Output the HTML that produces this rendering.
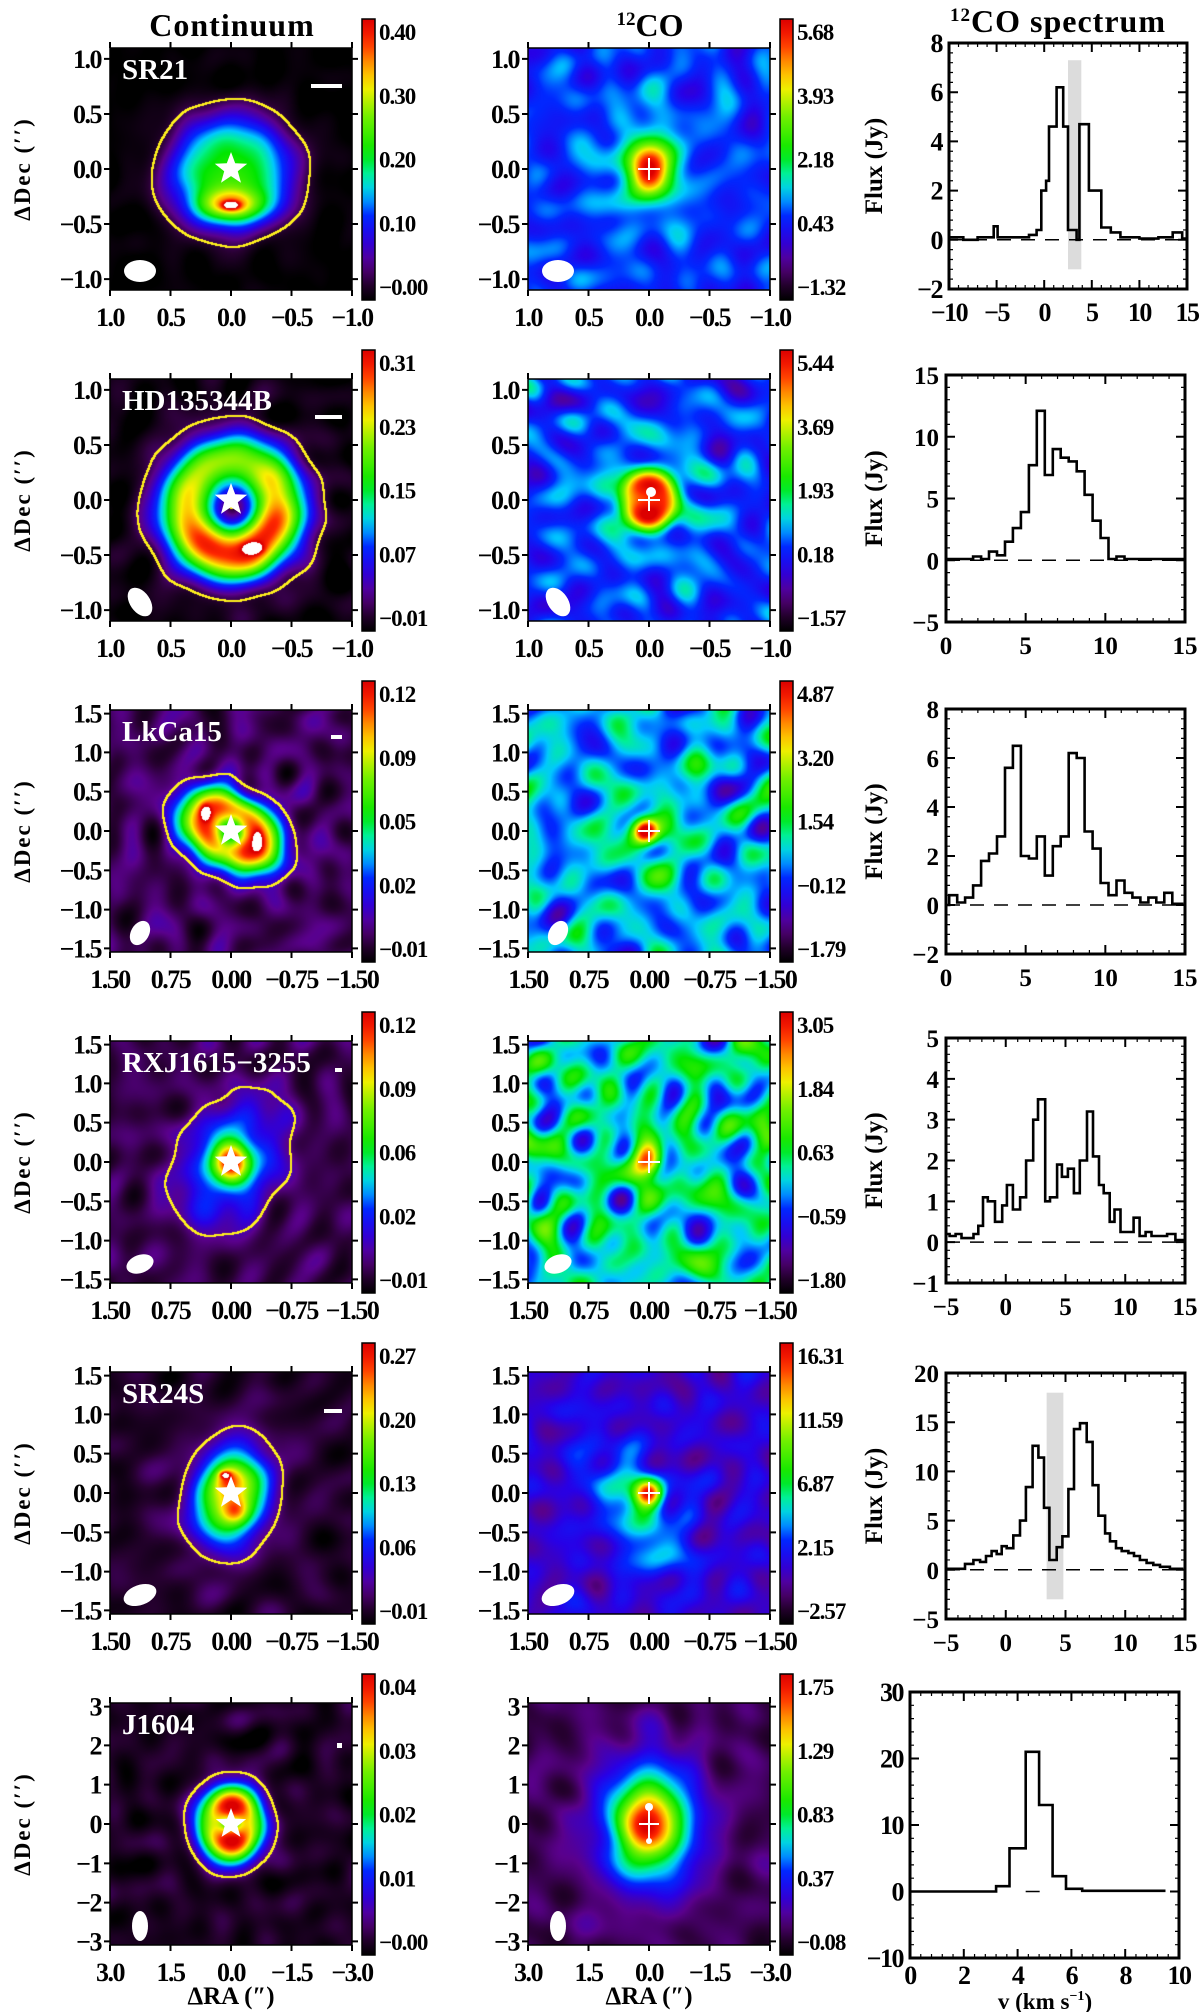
<!DOCTYPE html>
<html><head><meta charset="utf-8">
<style>
html,body{margin:0;padding:0;background:#fff;}
#wrap{position:relative;width:1200px;height:2012px;overflow:hidden;background:#fff;}
canvas{position:absolute;}
svg{position:absolute;left:0;top:0;}
text{font-family:"Liberation Serif",serif;font-weight:bold;}
</style></head>
<body>
<div id="wrap">
<svg id="ov" width="1200" height="2012"></svg>
</div>
<script>
// ---------- spectrum data ----------
const spec1Edges=[-10,-8.5,-7,-5.3,-4.9,-3,-1.6,-0.8,-0.3,0.2,0.5,1.3,2.0,2.5,3.4,3.7,4.7,6.0,7.0,8,10,12,13.5,14.5,15];
const spec1Flux=[0.1,0.0,0.1,0.55,0.1,0.1,0.2,0.4,2.0,2.4,4.6,6.2,4.6,0.4,0.0,4.7,2.0,0.5,0.3,0.1,0.05,0.1,0.3,0.05];
const spec2Edges=[0,1.7,2.2,2.7,3.2,3.7,4.2,4.7,5.2,5.7,6.2,6.7,7.2,7.7,8.2,8.7,9.2,9.7,10.2,10.7,11.2,15];
const spec2Flux=[0.1,0.3,0.1,0.7,0.4,1.5,2.6,3.9,7.7,12.1,6.9,9.0,8.3,8.0,7.2,5.3,3.2,1.8,0.1,0.3,0.1];
const spec3Edges=[0,0.2,0.7,1.2,1.7,2.2,2.7,3.2,3.7,4.2,4.7,5.2,5.7,6.2,6.7,7.2,7.7,8.2,8.7,9.2,9.7,10.2,10.7,11.2,11.7,12.2,12.7,13.2,13.7,14.2,14.9];
const spec3Flux=[0.0,0.4,0.1,0.3,0.8,1.8,2.1,2.8,5.6,6.5,2.0,1.9,2.8,1.2,2.4,2.8,6.2,6.0,3.0,2.3,0.9,0.4,1.0,0.5,0.3,0.1,0.3,0.1,0.5,0.05];
const spec4Edges=[-5,-4.7,-4.2,-3.7,-2.7,-2.3,-1.9,-1.5,-0.9,-0.3,0.1,0.6,1.2,1.7,2.3,2.7,3.3,3.7,4.3,4.7,5.2,5.7,6.2,6.8,7.3,7.8,8.2,8.7,9.1,9.6,10.7,11.2,11.7,12.2,13.5,14.2,14.9];
const spec4Flux=[0.2,0.15,0.2,0.1,0.2,0.4,1.1,1.0,0.5,0.9,1.4,0.8,1.1,2.0,3.0,3.5,1.0,1.1,1.9,1.6,1.8,1.2,2.0,3.2,2.1,1.4,1.2,0.5,0.8,0.25,0.6,0.15,0.25,0.15,0.2,0.05];
const spec5Edges=[-5,-3.41,-2.71,-2.15,-1.65,-1.18,-0.76,-0.34,0.08,0.63,1.19,1.69,2.25,2.73,3.2,3.65,4.26,4.74,5.24,5.71,6.21,6.77,7.27,7.75,8.31,8.72,9.23,9.7,10.26,10.73,11.23,11.79,12.35,12.91,13.74,14.86];
const spec5Flux=[0.1,0.6,1.0,0.8,1.4,1.9,1.6,2.4,2.2,3.5,5.0,8.4,12.6,11.4,6.3,1.0,2.3,3.4,8.2,14.3,14.9,13.0,8.6,5.5,3.7,2.9,2.2,1.9,1.7,1.4,1.0,0.7,0.5,0.3,0.1];
const spec6Edges=[0,3.2,3.7,4.3,4.8,5.3,5.8,6.4,9.5];
const spec6Flux=[0.0,0.8,6.5,21,13,2.3,0.4,0.1];
const specXTicks=[[-10,-5,0,5,10,15],[0,5,10,15],[0,5,10,15],[-5,0,5,10,15],[-5,0,5,10,15],[0,2,4,6,8,10]];
const specYTicks=[[-2,0,2,4,6,8],[-5,0,5,10,15],[-2,0,2,4,6,8],[-1,0,1,2,3,4,5],[-5,0,5,10,15,20],[-10,0,10,20,30]];
const specBands=[[2.5,3.9,-1.2,7.3],null,null,null,[3.42,4.82,-3.0,18.0],null];
const cbCont=[["0.40","0.30","0.20","0.10","−0.00"],["0.31","0.23","0.15","0.07","−0.01"],["0.12","0.09","0.05","0.02","−0.01"],["0.12","0.09","0.06","0.02","−0.01"],["0.27","0.20","0.13","0.06","−0.01"],["0.04","0.03","0.02","0.01","−0.00"]];
const cbCO=[["5.68","3.93","2.18","0.43","−1.32"],["5.44","3.69","1.93","0.18","−1.57"],["4.87","3.20","1.54","−0.12","−1.79"],["3.05","1.84","0.63","−0.59","−1.80"],["16.31","11.59","6.87","2.15","−2.57"],["1.75","1.29","0.83","0.37","−0.08"]];
const names=["SR21","HD135344B","LkCa15","RXJ1615−3255","SR24S","J1604"];
const mapXLabels=[["1.0","0.5","0.0","−0.5","−1.0"],["1.0","0.5","0.0","−0.5","−1.0"],["1.50","0.75","0.00","−0.75","−1.50"],["1.50","0.75","0.00","−0.75","−1.50"],["1.50","0.75","0.00","−0.75","−1.50"],["3.0","1.5","0.0","−1.5","−3.0"]];
const mapYLabels=[["1.0","0.5","0.0","−0.5","−1.0"],["1.0","0.5","0.0","−0.5","−1.0"],["1.5","1.0","0.5","0.0","−0.5","−1.0","−1.5"],["1.5","1.0","0.5","0.0","−0.5","−1.0","−1.5"],["1.5","1.0","0.5","0.0","−0.5","−1.0","−1.5"],["3","2","1","0","−1","−2","−3"]];
const mapYFrac=[[0.91,0.455,0,-0.455,-0.91],[0.91,0.455,0,-0.455,-0.91],[0.97,0.65,0.325,0,-0.325,-0.65,-0.97],[0.97,0.65,0.325,0,-0.325,-0.65,-0.97],[0.97,0.65,0.325,0,-0.325,-0.65,-0.97],[0.97,0.65,0.325,0,-0.325,-0.65,-0.97]];

const MS=242, LX=110, MX=528;
function rowTop(i){return 48+331*i;}
const specBox=[[949,43,238,246],[946,375,239,247],[946,709,239,245],[946,1038,239,245],[946,1373,239,246],[910,1692,269,266]];

const NS="http://www.w3.org/2000/svg";
const ov=document.getElementById('ov');
function mk(tag,at,parent){const e=document.createElementNS(NS,tag);for(const k in at)e.setAttribute(k,at[k]);(parent||ov).appendChild(e);return e;}
function tx(x,y,s,size,anchor,fill,extra){const e=mk('text',Object.assign({x:x,y:y,'font-size':size,'text-anchor':anchor||'middle',fill:fill||'#000'},extra||{}));e.textContent=s;return e;}

const CM=[[0,0,0,0],[.06,40,0,50],[.13,90,0,140],[.22,40,0,230],[.30,0,40,255],[.38,0,200,255],[.45,0,240,150],[.52,0,230,0],[.66,120,240,0],[.76,250,240,0],[.84,255,150,0],[.92,255,40,0],[1,220,0,0]];
function cm(t){
  if(t>1.04) return [255,255,255];
  t=Math.max(0,Math.min(1,t));
  for(let i=1;i<CM.length;i++){if(t<=CM[i][0]){const a=CM[i-1],b=CM[i];const f=(t-a[0])/(b[0]-a[0]);return [a[1]+(b[1]-a[1])*f,a[2]+(b[2]-a[2])*f,a[3]+(b[3]-a[3])*f];}}
  return [220,0,0];
}
function lcg(seed){let s=seed>>>0;return function(){s=(s*1664525+1013904223)>>>0;return s/4294967296;};}
function makeNoise(seed,n,kmin,kmax){const r=lcg(seed);const w=[];for(let i=0;i<n;i++){const k=kmin+(kmax-kmin)*r();const a=r()*Math.PI*2;w.push([k*Math.cos(a),k*Math.sin(a),r()*6.283]);}return w;}
function evalNoise(w,u,v){let s=0;for(const q of w)s+=Math.sin(q[0]*u+q[1]*v+q[2]);return s/Math.sqrt(w.length/2);}
const D=Math.PI/180;
function comp(c,u,v){
  const du=u-c.x,dv=v-c.y,a=(c.ang||0)*D,ca=Math.cos(a),sa=Math.sin(a);
  const xp=du*ca+dv*sa, yp=-du*sa+dv*ca;
  if(c.t==='g'){const Q=xp*xp/(c.sx*c.sx)+yp*yp/(c.sy*c.sy);return c.a*Math.exp(-0.5*Math.pow(Q,c.p||1));}
  const r=Math.sqrt(xp*xp+(yp/c.q)*(yp/c.q));const th=Math.atan2(dv,du);
  const amp=c.a*(1+(c.m||0)*Math.cos(th-(c.phi||0)*D)+(c.m2||0)*Math.cos(2*(th-(c.ang||0)*D)));
  return amp*Math.exp(-0.5*Math.pow((r-c.r0)/c.w,2));
}
const maps=[
 {bg:0.0,na:0.012,seed:11,cl:0.075,c:[{t:'g',x:0,y:-0.03,sx:0.4,sy:0.37,a:0.56,p:1.4},{t:'g',x:0,y:-0.3,sx:0.2,sy:0.09,a:0.42},{t:'g',x:0,y:-0.3,sx:0.05,sy:0.025,a:0.35}]},
 {bg:0.29,na:0.035,seed:12,c:[{t:'g',x:0,y:0,sx:0.12,sy:0.15,a:0.66},{t:'g',x:0,y:0.05,sx:0.3,sy:0.38,a:0.1}]},
 {bg:0.02,na:0.02,seed:21,cl:0.08,c:[{t:'r',x:0.01,y:-0.06,r0:0.38,w:0.17,q:1.0,a:0.8,m:0.18,phi:-80},{t:'g',x:0.18,y:-0.4,sx:0.05,sy:0.03,a:0.35}]},
 {bg:0.28,na:0.05,seed:22,c:[{t:'g',x:0,y:0.0,sx:0.2,sy:0.2,a:0.6,p:2},{t:'g',x:0,y:0,sx:0.42,sy:0.42,a:0.12}]},
 {bg:0.09,na:0.03,seed:31,cl:0.16,c:[{t:'r',x:0,y:0,r0:0.24,w:0.16,q:0.7,ang:-30,a:0.78,m2:0.12},{t:'g',x:-0.21,y:0.15,sx:0.03,sy:0.045,a:0.3},{t:'g',x:0.22,y:-0.08,sx:0.025,sy:0.05,a:0.3}]},
 {bg:0.36,na:0.07,seed:32,c:[{t:'g',x:-0.03,y:0,sx:0.07,sy:0.07,a:0.58},{t:'g',x:0,y:-0.05,sx:0.25,sy:0.25,a:0.12}]},
 {bg:0.08,na:0.025,seed:41,cl:0.14,c:[{t:'g',x:0,y:0,sx:0.52,sy:0.37,ang:60,a:0.2,p:2},{t:'g',x:0,y:0,sx:0.11,sy:0.13,a:0.72}]},
 {bg:0.42,na:0.09,seed:42,c:[{t:'g',x:0,y:0,sx:0.09,sy:0.1,a:0.5}]},
 {bg:0.05,na:0.02,seed:51,cl:0.13,c:[{t:'g',x:0,y:-0.02,sx:0.2,sy:0.27,ang:-15,a:0.78},{t:'g',x:-0.03,y:0.12,sx:0.07,sy:0.07,a:0.2},{t:'g',x:0.04,y:-0.15,sx:0.07,sy:0.07,a:0.2},{t:'g',x:-0.05,y:0.15,sx:0.03,sy:0.02,a:0.3}]},
 {bg:0.2,na:0.03,seed:52,c:[{t:'g',x:-0.1,y:-0.15,sx:0.4,sy:0.18,ang:-59,a:0.24},{t:'g',x:0,y:0,sx:0.08,sy:0.08,a:0.6}]},
 {bg:0.04,na:0.02,seed:61,cl:0.12,c:[{t:'r',x:0,y:0,r0:0.13,w:0.12,q:1.1,a:0.85,m2:-0.12}]},
 {bg:0.08,na:0.02,seed:62,c:[{t:'g',x:0,y:0,sx:0.21,sy:0.27,a:0.72},{t:'g',x:0,y:0,sx:0.38,sy:0.48,a:0.16}]}
];
const beams=[[16,11,0],[16,10,55],[13,9,-60],[14,9,-20],[17,10,-20],[8,15,0]];
const bars=[[201,36,31,4],[205,36,27,4],[221,25,11,4],[225,27,7,4],[214,37,18,4],[227,40,5,5]];

function drawMap(idx,x,y){
  const m=maps[idx];
  const cv=document.createElement('canvas');
  cv.width=MS;cv.height=MS;cv.style.left=x+'px';cv.style.top=y+'px';
  
  
  document.getElementById('wrap').insertBefore(cv,ov);
  const ctx=cv.getContext('2d');const img=ctx.createImageData(MS,MS);
  const nw=makeNoise(m.seed,28,10,22);
  const F=new Float32Array(MS*MS),G=new Float32Array(MS*MS);
  for(let j=0;j<MS;j++)for(let i=0;i<MS;i++){
    const u=(i+0.5)/(MS/2)-1,v=1-(j+0.5)/(MS/2);
    let s=m.bg;
    for(const c of m.c)s+=comp(c,u,v);
    const n=m.na*evalNoise(nw,u,v);
    F[j*MS+i]=s+n;G[j*MS+i]=s+0.35*n;
  }
  for(let j=0;j<MS;j++)for(let i=0;i<MS;i++){
    const f=F[j*MS+i];let col=cm(Math.min(f,1.0));
    if(m.spot&&f>1.04)col=[255,255,255];
    if(f>1.04&&idx%2===0)col=[255,255,255];
    if(m.cl!==undefined&&i>1&&j>1&&i<MS-2&&j<MS-2){
      const L=m.cl;let lo=false,hi=false;
      for(let dj=-1;dj<=1;dj++)for(let di=-1;di<=1;di++){const q=G[(j+dj)*MS+i+di];if(q<L)lo=true;else hi=true;}
      if(lo&&hi)col=[255,240,30];
    }
    const k=(j*MS+i)*4;img.data[k]=col[0];img.data[k+1]=col[1];img.data[k+2]=col[2];img.data[k+3]=255;
  }
  ctx.putImageData(img,0,0);
}

function star(cx,cy,R){let d='';for(let k=0;k<10;k++){const r=k%2?R*0.42:R;const a=-Math.PI/2+k*Math.PI/5;d+=(k?'L':'M')+(cx+r*Math.cos(a)).toFixed(1)+' '+(cy+r*Math.sin(a)).toFixed(1);}return d+'Z';}

function colorbar(x,y,labels,kind,row){
  const g=mk('g',{});
  
  
  const id='cbg'+kind+row;
  const defs=mk('defs',{},g);
  const lg=mk('linearGradient',{id:id,x1:0,y1:1,x2:0,y2:0},defs);
  for(let s=0;s<=20;s++){const c=cm(s/20);mk('stop',{offset:s/20,'stop-color':'rgb('+c.map(Math.round).join(',')+')'},lg);}
  const H=281;
  const r=mk('rect',{x:x,y:y,width:13,height:H,fill:'url(#'+id+')',stroke:'#000','stroke-width':1.5},g);
  
  
  for(let k=0;k<labels.length;k++){
    const t=tx(x+17,y+13+k*(H-26)/(labels.length-1)+8,labels[k],23,'start','#000',{'letter-spacing':'-1'});
    
    
  }
}

function mapAxes(row,x,y,isCont){
  const fr=mk('rect',{x:x,y:y,width:MS,height:MS,fill:'none',stroke:'#000','stroke-width':1.5});
  
  
  let d='';
  const xl=mapXLabels[row];
  for(let k=0;k<xl.length;k++){const px=x+k*MS/4;d+='M'+px+' '+(y-6)+'V'+y+'M'+px+' '+(y+MS)+'V'+(y+MS+6);
    const t=tx(px,y+MS+36,xl[k],26,'middle','#000',{'letter-spacing':'-1.5'});
    
    }
  const yl=mapYLabels[row],yf=mapYFrac[row];
  for(let k=0;k<yl.length;k++){const py=y+MS/2-yf[k]*MS/2;d+='M'+(x-6)+' '+py+'H'+x+'M'+(x+MS)+' '+py+'H'+(x+MS+6);
    const t=tx(x-9,py+9,yl[k],26,'end','#000',{'letter-spacing':'-1.5'});
    
    }
  const tk=mk('path',{d:d,stroke:'#000','stroke-width':2,fill:'none'});
  
  
  const b=beams[row];
  const be=mk('ellipse',{cx:x+30,cy:y+223,rx:b[0],ry:b[1],fill:'#fff',transform:'rotate('+b[2]+' '+(x+30)+' '+(y+223)+')'});
  
  
  const cx=x+MS/2,cy=y+MS/2;
  if(isCont){
    const st=mk('path',{d:star(cx,cy,row===5?16:17),fill:'#fff'});
    
    
    const bb=bars[row];
    const sb=mk('rect',{x:x+bb[0],y:y+bb[1],width:bb[2],height:bb[3],fill:'#fff'});
    
    
    const nm=tx(x+12,y+31,names[row],29,'start','#fff',{'font-weight':'normal'});
    
    
  } else {
    let cd='M'+(cx-11)+' '+cy+'H'+(cx+11)+'M'+cx+' '+(cy-11)+'V'+(cy+11);
    if(row===5)cd='M'+(cx-10)+' '+cy+'H'+(cx+10)+'M'+cx+' '+(cy-17)+'V'+(cy+17);
    const cr=mk('path',{d:cd,stroke:'#fff','stroke-width':2});
    
    
    if(row===5){
      const d1=mk('circle',{cx:cx,cy:cy-17,r:4,fill:'#fff'});
      
      
      const d2=mk('circle',{cx:cx,cy:cy+17,r:3,fill:'#fff'});
      
      
    } else if(row===1){
      const d1=mk('circle',{cx:cx+2,cy:cy-8,r:5,fill:'#fff'});
      
      
    }
  }
}

function spectrum(row,E,Fx){
  const [x0,y0,w,h]=specBox[row];
  const xt=specXTicks[row],yt=specYTicks[row];
  const xmin=xt[0],xmax=xt[xt.length-1],ymin=yt[0],ymax=yt[yt.length-1];
  const sx=v=>x0+(v-xmin)/(xmax-xmin)*w;
  const sy=v=>y0+h-(v-ymin)/(ymax-ymin)*h;
  const g=mk('g',{});
  
  
  const band=specBands[row];
  if(band){
    const br=mk('rect',{x:sx(band[0]),y:sy(band[3]),width:sx(band[1])-sx(band[0]),height:sy(band[2])-sy(band[3]),fill:'#dcdcdc'},g);
    
    
  }
  const dx0=row===5?4.3:xmin, dx1=row===5?5.0:xmax;
  const zl=mk('line',{x1:sx(dx0),x2:sx(dx1),y1:sy(0),y2:sy(0),stroke:'#000','stroke-width':1.5,'stroke-dasharray':'14,10'},g);
  
  
  let d='M'+sx(E[0]).toFixed(1)+' '+sy(Fx[0]).toFixed(1);
  for(let i=0;i<Fx.length;i++){d+='L'+sx(E[i]).toFixed(1)+' '+sy(Fx[i]).toFixed(1)+'L'+sx(E[i+1]).toFixed(1)+' '+sy(Fx[i]).toFixed(1);}
  const ln=mk('path',{d:d,fill:'none',stroke:'#000','stroke-width':2.6,'stroke-linejoin':'miter'},g);
  
  
  const fr=mk('rect',{x:x0,y:y0,width:w,height:h,fill:'none',stroke:'#000','stroke-width':3},g);
  
  
  let td='',md='';
  const xs=(xt[1]-xt[0])/5,ys=(yt[1]-yt[0])/5;
  for(let v=xmin;v<=xmax+1e-9;v+=xs){const p=sx(v);md+='M'+p+' '+(y0+h)+'v-4M'+p+' '+y0+'v4';}
  for(let v=ymin;v<=ymax+1e-9;v+=ys){const p=sy(v);md+='M'+x0+' '+p+'h4M'+(x0+w)+' '+p+'h-4';}
  const cond=row===0||row===5;
  const xoff=row===5?26:32;
  for(const v of xt){const p=sx(v);td+='M'+p+' '+(y0+h)+'v-9M'+p+' '+y0+'v9';
    const t=tx(p,y0+h+xoff,String(v).replace('-','−'),cond?26:25,'middle','#000',cond?{'letter-spacing':'-1.5'}:{});
    
    }
  for(const v of yt){const p=sy(v);td+='M'+x0+' '+p+'h9M'+(x0+w)+' '+p+'h-9';
    const t=tx(x0-7,p+9,String(v).replace('-','−'),cond?26:25,'end','#000',cond?{'letter-spacing':'-1.5'}:{});
    
    }
  const tk=mk('path',{d:td,stroke:'#000','stroke-width':2,fill:'none'},g);
  
  
  const mt=mk('path',{d:md,stroke:'#000','stroke-width':1.2,fill:'none'},g);
  
  
  if(row<5){
    const fl=tx(0,0,'Flux (Jy)',25,'middle','#000',{transform:'translate(882,'+(y0+h/2)+') rotate(-90)'});
    
    
  }
}

const specE=[spec1Edges,spec2Edges,spec3Edges,spec4Edges,spec5Edges,spec6Edges];
const specF=[spec1Flux,spec2Flux,spec3Flux,spec4Flux,spec5Flux,spec6Flux];
for(let r=0;r<6;r++){
  const y=rowTop(r);
  drawMap(r*2,LX,y);
  drawMap(r*2+1,MX,y);
  mapAxes(r,LX,y,true);
  mapAxes(r,MX,y,false);
  colorbar(362,y-29,cbCont[r],'continuum',r);
  colorbar(MX+252,y-29,cbCO[r],'co',r);
  spectrum(r,specE[r],specF[r]);
  const dl=tx(0,0,'ΔDec (\u2032\u2032)',23,'middle','#000',{transform:'translate(30,'+(y+MS/2)+') rotate(-90)','font-family':'"DejaVu Sans",sans-serif','letter-spacing':'2'});
  
  
}
const t1=tx(232,36,'Continuum',32,'middle','#000',{'font-weight':'normal','letter-spacing':'1'});


const t2=mk('text',{x:650,y:36,'font-size':32,'text-anchor':'middle','font-weight':'normal'});
t2.innerHTML='<tspan font-size="19" dy="-11">12</tspan><tspan dy="11">CO</tspan>';


const t3=mk('text',{x:1058,y:32,'font-size':32,'text-anchor':'middle','font-weight':'normal','letter-spacing':'1'});
t3.innerHTML='<tspan font-size="19" dy="-11">12</tspan><tspan dy="11">CO spectrum</tspan>';


const ra1=tx(LX+MS/2,2004,'ΔRA (″)',25,'middle','#000',{'font-weight':'normal'});


const ra2=tx(MX+MS/2,2004,'ΔRA (″)',25,'middle','#000',{'font-weight':'normal'});


const vt=mk('text',{x:1045,y:2009,'font-size':23,'text-anchor':'middle','font-weight':'normal'});
vt.innerHTML='v (km s<tspan font-size="14" dy="-9">−1</tspan><tspan dy="9">)</tspan>';


</script>
</body></html>
